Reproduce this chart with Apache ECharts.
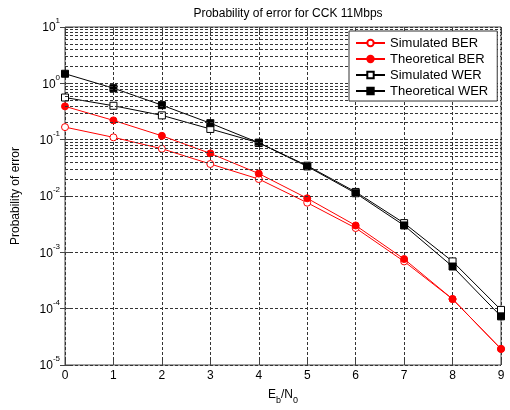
<!DOCTYPE html>
<html>
<head>
<meta charset="utf-8">
<script src="https://cdn.jsdelivr.net/npm/echarts@6/dist/echarts.min.js"></script>
<style>
  html, body { margin: 0; padding: 0; background: #fff; }
  #chart { width: 510px; height: 410px; }
</style>
</head>
<body>
<div id="chart"></div>
<script>
  // Eb/N0 in dB
  var ebn0 = [0, 1, 2, 3, 4, 5, 6, 7, 8, 9]
  var simBER = [0.167, 0.11, 0.069, 0.037, 0.020, 0.0076, 0.0027, 0.00069, 0.000148, 0.0000193]
  var theoBER = [0.39, 0.22, 0.117, 0.057, 0.025, 0.0091, 0.003, 0.00076, 0.000148, 0.0000193]
  var simWER = [0.56, 0.40, 0.27, 0.155, 0.088, 0.0345, 0.0118, 0.0033, 0.00069, 0.000095]
  var theoWER = [1.48, 0.82, 0.41, 0.196, 0.088, 0.0335, 0.0112, 0.003, 0.00056, 0.000073]
  var seriesNames = ['Simulated BER', 'Theoretical BER', 'Simulated WER', 'Theoretical WER']
  var yMin = 1e-5
  var yMax = 10

  function pairs (ys) {
    return ebn0.map(function (x, i) { return [x, ys[i]] })
  }

  // matlab style minor grid: 2..9 in every decade
  var minorLines = []
  for (var e = -5; e < 1; e++) {
    for (var m = 2; m <= 9; m++) {
      minorLines.push({ yAxis: m * Math.pow(10, e) })
    }
  }

  var gridDash = { color: '#333', width: 1, type: [3, 2] }
  var fontFam = 'Liberation Sans, Arial, sans-serif'

  var myChart = echarts.init(document.getElementById('chart'))
  myChart.setOption({
    animation: false,
    textStyle: { fontFamily: fontFam },
    title: {
      text: 'Probability of error for CCK 11Mbps',
      left: 283,
      top: 3,
      textAlign: 'center',
      textStyle: { fontSize: 12, fontWeight: 'normal', color: '#000', fontFamily: fontFam }
    },
    legend: {
      data: seriesNames,
      orient: 'vertical',
      left: 349,
      top: 31,
      z: 100,
      backgroundColor: '#fff',
      borderColor: '#333',
      borderWidth: 1,
      borderRadius: 0,
      padding: [4, 9, 2, 6],
      itemGap: 0,
      itemWidth: 29,
      itemHeight: 8,
      textStyle: { fontSize: 13, lineHeight: 16, color: '#000', fontFamily: fontFam }
    },
    grid: {
      left: 65,
      right: 9,
      top: 27,
      bottom: 39,
      show: true,
      borderColor: '#444',
      borderWidth: 1
    },
    xAxis: [{
      type: 'value',
      min: 0,
      max: 9,
      interval: 1,
      name: 'E{sub1|b}/N{sub1|0}',
      nameLocation: 'middle',
      nameGap: 24,
      nameTextStyle: {
        color: '#000',
        fontSize: 12,
        rich: {
          sub1: { fontSize: 9, verticalAlign: 'bottom', lineHeight: 9, padding: [0, 0, -4, 0] }
        }
      },
      axisLine: { show: false },
      axisTick: { inside: true, length: 5, lineStyle: { color: '#444' } },
      axisLabel: { color: '#000', fontSize: 12, margin: 5 },
      splitLine: { show: true, lineStyle: gridDash }
    }, {
      type: 'value',
      position: 'top',
      min: 0,
      max: 9,
      interval: 1,
      axisLine: { show: false },
      axisTick: { inside: true, length: 5, lineStyle: { color: '#444' } },
      axisLabel: { show: false },
      splitLine: { show: false }
    }],
    yAxis: [{
      type: 'log',
      logBase: 10,
      min: yMin,
      max: yMax,
      interval: 1,
      name: 'Probability of error',
      nameLocation: 'middle',
      nameGap: 43,
      nameTextStyle: { color: '#000', fontSize: 12 },
      axisLine: { show: false },
      axisTick: { inside: true, length: 5, lineStyle: { color: '#444' } },
      axisLabel: {
        color: '#000',
        fontSize: 12,
        margin: 5,
        formatter: function (v) {
          var ex = Math.round(Math.log(v) / Math.LN10)
          return '{b|10}{s|' + ex + '}'
        },
        rich: {
          b: { fontSize: 12, lineHeight: 14, verticalAlign: 'bottom' },
          s: { fontSize: 8, lineHeight: 14, verticalAlign: 'top', padding: [-3, 0, 0, 0] }
        }
      },
      splitLine: { show: true, lineStyle: gridDash }
    }, {
      type: 'log',
      logBase: 10,
      position: 'right',
      min: yMin,
      max: yMax,
      interval: 1,
      axisLine: { show: false },
      axisTick: { inside: true, length: 5, lineStyle: { color: '#444' } },
      axisLabel: { show: false },
      splitLine: { show: false }
    }],
    series: [
      {
        name: 'grid',
        type: 'line',
        data: [],
        z: 1,
        silent: true,
        markLine: {
          silent: true,
          symbol: 'none',
          animation: false,
          label: { show: false },
          lineStyle: gridDash,
          data: minorLines
        }
      },
      {
        name: seriesNames[0],
        type: 'line',
        data: pairs(simBER),
        z: 3,
        symbol: 'circle',
        symbolSize: 7,
        itemStyle: { color: '#fff', borderColor: '#ff0000', borderWidth: 1 },
        lineStyle: { color: '#ff0000', width: 1 }
      },
      {
        name: seriesNames[1],
        type: 'line',
        data: pairs(theoBER),
        z: 4,
        symbol: 'circle',
        symbolSize: 7,
        itemStyle: { color: '#ff0000', borderColor: '#ff0000', borderWidth: 1 },
        lineStyle: { color: '#ff0000', width: 1 }
      },
      {
        name: seriesNames[2],
        type: 'line',
        data: pairs(simWER),
        z: 3,
        symbol: 'rect',
        symbolSize: 7,
        itemStyle: { color: '#fff', borderColor: '#000', borderWidth: 1 },
        lineStyle: { color: '#000', width: 1 }
      },
      {
        name: seriesNames[3],
        type: 'line',
        data: pairs(theoWER),
        z: 4,
        symbol: 'rect',
        symbolSize: 7,
        itemStyle: { color: '#000', borderColor: '#000', borderWidth: 1 },
        lineStyle: { color: '#000', width: 1 }
      }
    ]
  })
</script>
</body>
</html>
